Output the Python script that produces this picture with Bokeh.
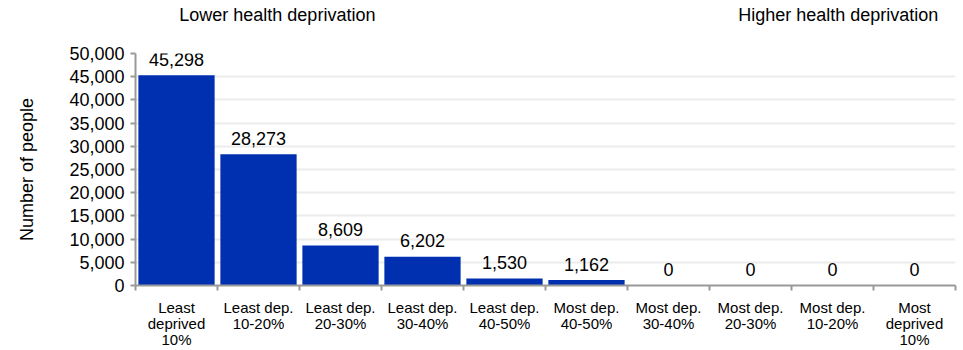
from bokeh.plotting import figure
from bokeh.models import ColumnDataSource, FixedTicker, Range1d, NumeralTickFormatter, LinearAxis
from bokeh.core.properties import value
from bokeh.embed import file_html
from bokeh.resources import INLINE

categories = ["Least\ndeprived\n10%", "Least dep.\n10-20%", "Least dep.\n20-30%", "Least dep.\n30-40%",
              "Least dep.\n40-50%", "Most dep.\n40-50%", "Most dep.\n30-40%", "Most dep.\n20-30%",
              "Most dep.\n10-20%", "Most\ndeprived\n10%"]
people = [45298, 28273, 8609, 6202, 1530, 1162, 0, 0, 0, 0]
y_ticks = [0, 5000, 10000, 15000, 20000, 25000, 30000, 35000, 40000, 45000, 50000]
top_labels = ["Lower health deprivation", "Higher health deprivation"]
top_label_pos = [1.73, 8.57]

FONT = "Liberation Sans"
BAR = "#0030b0"

xs = [i + 0.5 for i in range(len(categories))]
src = ColumnDataSource(dict(x=xs, top=people, lab=[f"{v:,}" for v in people]))

p = figure(width=960, height=350, output_backend="svg", toolbar_location=None,
           x_range=Range1d(0, len(categories)), y_range=Range1d(0, 50000),
           min_border_left=135, min_border_right=5, min_border_top=53, min_border_bottom=63)
p.outline_line_color = None
p.background_fill_color = "white"

p.vbar(x="x", top="top", width=0.93, source=src, fill_color=BAR, line_color=None)
p.text(x="x", y="top", text="lab", source=src, text_align="center", text_baseline="middle",
       y_offset=-16, text_font=value(FONT), text_font_size="18px", text_color="black")

# x axis
p.xaxis.ticker = FixedTicker(ticks=xs, minor_ticks=list(range(len(categories) + 1)))
p.xaxis.major_label_overrides = {x: c for x, c in zip(xs, categories)}
p.xaxis.major_tick_line_color = None
p.xaxis.major_tick_out = 0
p.xaxis.major_tick_in = 0
p.xaxis.minor_tick_line_color = "#999999"
p.xaxis.minor_tick_out = 5
p.xaxis.minor_tick_in = 0
p.xaxis.minor_tick_line_width = 2
p.xaxis.axis_line_color = "#999999"
p.xaxis.axis_line_width = 2
p.xaxis.major_label_text_font = FONT
p.xaxis.major_label_text_font_size = "15px"
p.xaxis.major_label_text_color = "black"
p.xaxis.major_label_standoff = 8
p.xaxis.major_label_text_line_height = 0.95

# top annotation axis
top_axis = LinearAxis(ticker=FixedTicker(ticks=top_label_pos, minor_ticks=[]),
                      major_label_overrides={x: t for x, t in zip(top_label_pos, top_labels)},
                      axis_line_color=None, major_tick_line_color=None, minor_tick_line_color=None,
                      major_tick_out=0, major_tick_in=0, major_label_standoff=29,
                      major_label_text_font=FONT, major_label_text_font_size="18px",
                      major_label_text_color="black")
p.add_layout(top_axis, "above")

# y axis
p.yaxis.ticker = FixedTicker(ticks=y_ticks)
p.yaxis.formatter = NumeralTickFormatter(format="0,0")
p.yaxis.minor_tick_line_color = None
p.yaxis.major_tick_line_color = "#999999"
p.yaxis.major_tick_out = 5
p.yaxis.major_tick_in = 0
p.yaxis.major_tick_line_width = 2
p.yaxis.axis_line_color = "#999999"
p.yaxis.axis_line_width = 2
p.yaxis.major_label_text_font = FONT
p.yaxis.major_label_text_font_size = "18px"
p.yaxis.major_label_text_color = "black"
p.yaxis.major_label_standoff = 6
p.yaxis.axis_label = "Number of people"
p.yaxis.axis_label_text_font = FONT
p.yaxis.axis_label_text_font_size = "18px"
p.yaxis.axis_label_text_font_style = "normal"
p.yaxis.axis_label_text_color = "black"
p.yaxis.axis_label_standoff = 29

p.xgrid.grid_line_color = None
p.ygrid.grid_line_color = "#ececec"
p.ygrid.grid_line_width = 2

open("out.html", "w").write(file_html(p, INLINE))
